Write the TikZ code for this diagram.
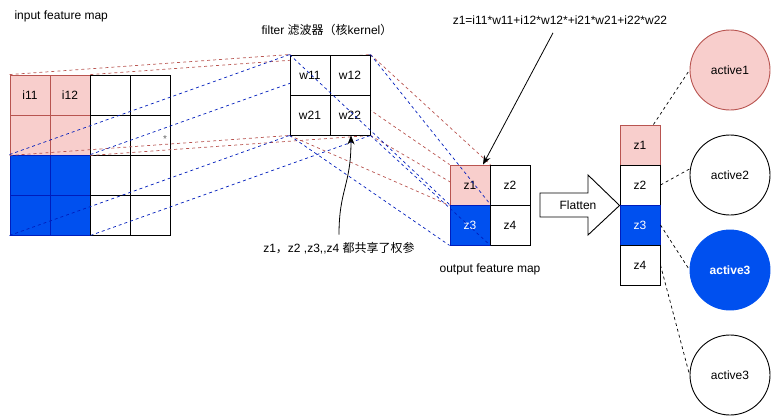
\documentclass[tikz,border=0pt]{standalone}
\usepackage{fontspec}
\setmainfont{Liberation Sans}
\newfontfamily\cjk{Noto Sans CJK SC}
\usepackage{tikz}
\usetikzlibrary{arrows.meta}
\definecolor{pinkfill}{HTML}{F8CECC}
\definecolor{pinkline}{HTML}{B85450}
\definecolor{bluefill}{HTML}{0050EF}
\definecolor{blueline}{HTML}{001DBC}
\pgfdeclarelayer{bg}
\pgfdeclarelayer{mid}
\pgfsetlayers{bg,mid,main}

\begin{document}
\begin{tikzpicture}[
  x=1pt, y=-1pt,
  font=\fontsize{12}{14}\selectfont,
  cell/.style={draw, line width=0.9pt, fill=white, minimum size=40pt, inner sep=0pt},
  pinkcell/.style={cell, fill=pinkfill, draw=pinkline},
  bluecell/.style={cell, fill=bluefill, draw=blueline, text=white},
  neuron/.style={circle, draw, line width=0.9pt, fill=white, minimum size=80pt, inner sep=0pt},
  redlink/.style={pinkline, line width=0.7pt, dash pattern=on 3pt off 3pt},
  bluelink/.style={blueline, line width=0.7pt, dash pattern=on 3pt off 3pt},
  dotlink/.style={black, line width=0.7pt, dash pattern=on 3pt off 3pt},
  arr/.style={-{Stealth[length=9pt,width=7pt]}, line width=0.8pt}
]
  \useasboundingbox (0,0) rectangle (771,416);

  \begin{pgfonlayer}{bg}
    \foreach \r/\c/\t in {1/1/i11, 1/2/i12, 2/1/{}, 2/2/{}}
      \node[pinkcell] (in\r\c) at ({40*\c-10},{40*\r+55}) {\t};
    \foreach \r in {3,4}
      \foreach \c in {1,2}
        \node[bluecell] (in\r\c) at ({40*\c-10},{40*\r+55}) {};
    \foreach \r in {1,...,4}
      \foreach \c in {3,4}
        \node[cell] (in\r\c) at ({40*\c-10},{40*\r+55}) {};
    \node[text=gray!80!black, font=\fontsize{10}{11}\selectfont] (star) at (165,139) {*};
  \end{pgfonlayer}

  \foreach \r/\c in {1/1, 1/2, 2/1, 2/2}
    \node[cell] (w\r\c) at ({270+40*\c},{35+40*\r}) {w\r\c};
  \foreach \n/\x/\y/\s in {1/470/185/pinkcell, 2/510/185/cell, 3/470/225/bluecell, 4/510/225/cell}
    \node[\s] (o\n) at (\x,\y) {z\n};
  \foreach \n/\s in {1/pinkcell, 2/cell, 3/bluecell, 4/cell}
    \node[\s] (f\n) at (640,{105+40*\n}) {z\n};

  \node[neuron, fill=pinkfill, draw=pinkline] (a1) at (730,70) {active1};
  \node[neuron] (a2) at (730,175) {active2};
  \node[neuron, fill=bluefill, draw=bluefill, text=white,
        font=\fontsize{12}{14}\selectfont\bfseries] (a3) at (730,270) {active3};
  \node[neuron] (a4) at (730,375) {active3};

  \begin{pgfonlayer}{mid}
    \foreach \s/\t in {in11.north west/w11.north west, in12.north east/w12.north east,
                       in21.south west/w21.south west, in22.south east/w22.south east}
      \draw[redlink] (\s) -- (\t);
    \foreach \s/\t in {in31.north west/w11.north west, in32.north east/w12.north east,
                       in41.south west/w21.south west, in42.south east/w22.south east}
      \draw[bluelink] (\s) -- (\t);
    \foreach \s/\t in {w11.north west/o1.north west, w12.north east/o1.north east,
                       w21.south west/o1.south west, w22.south east/o1.south east}
      \draw[redlink] (\s) -- (\t);
  \end{pgfonlayer}
  \foreach \s/\t in {w11.north west/o3.north west, w12.north east/o3.north east,
                     w21.south west/o3.south west, w22.south east/o3.south east}
    \draw[bluelink] (\s) -- (\t);

  \draw[line width=0.9pt, fill=white] (540,193) -- (588,193) -- (588,175) -- (f2.south west)
    -- (588,235) -- (588,217) -- (540,217) -- cycle;
  \node (flat) at (578,205) {Flatten};

  \draw[dotlink] ([xshift=-7pt]f1.north east) -- (a1.west);
  \draw[dotlink] (f2.east) -- (a2.171);
  \draw[dotlink] (f3.east) -- (a3.west);
  \draw[dotlink] (f4.east) -- (a4.west);

  \node[anchor=west] (inlabel) at (11,16) {input feature map};
  \node (filterlabel) at (327,30) {filter {\cjk 滤波器（核}kernel{\cjk ）}};
  \node (formula) at (560,20) {z1=i11*w11+i12*w12*+i21*w21+i22*w22};
  \node (outlabel) at (490,269) {output feature map};
  \node (share) at (339,248) {z1{\cjk ，}z2 ,z3,{},z4 {\cjk 都共享了权参}};

  \draw[arr] ([shift={(-7,5)}]formula.south) -- ([xshift=13pt]o1.north);
  \draw[arr] ([yshift=4pt]share.north) .. controls +(0,-45) and +(0,50) .. ([xshift=1pt]w22.south);
\end{tikzpicture}
\end{document}
